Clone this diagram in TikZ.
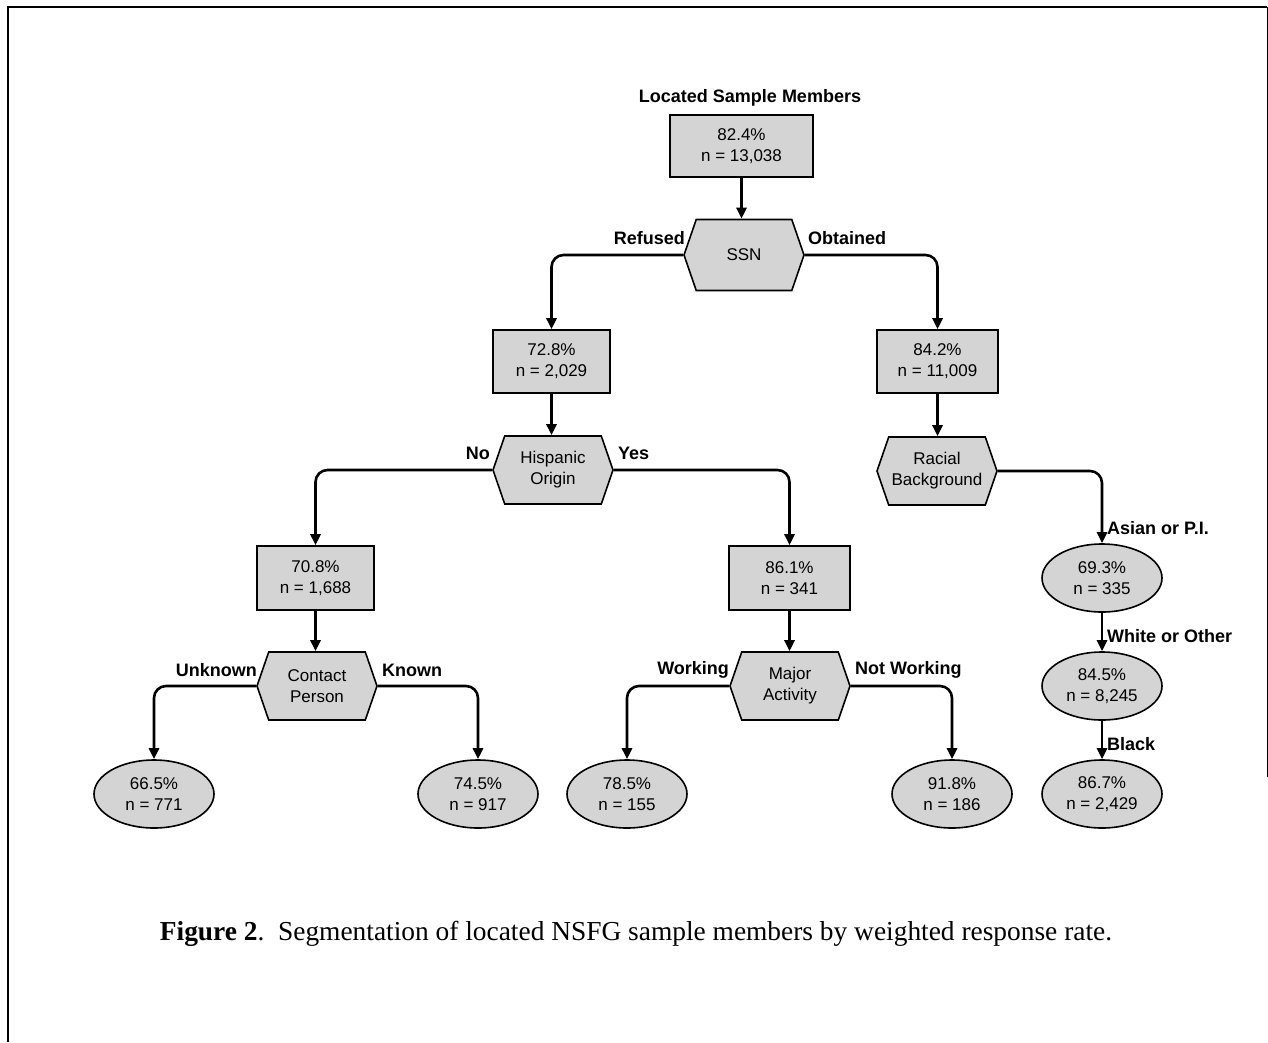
\documentclass[tikz,border=0pt]{standalone}
\usepackage{fontspec}
\setmainfont{Liberation Serif}
\newfontfamily\arial{Liberation Sans}
\usetikzlibrary{arrows.meta,shapes.geometric,shapes.symbols}
\begin{document}
\begin{tikzpicture}[x=1pt,y=-1pt,
  fillc/.style={fill=black!17},
  rbox/.style={draw, line width=1.6pt, fillc, align=center, inner sep=0pt,
     font=\arial\fontsize{17}{21}\selectfont},
  hexa/.style={draw, line width=1.6pt, fillc, align=center, shape=signal,
     signal to=east and west, signal pointer angle=142, inner sep=0pt,
     minimum width=120pt, minimum height=68pt,
     font=\arial\fontsize{17}{21}\selectfont},
  oval/.style={draw, line width=1.6pt, fillc, align=center, ellipse, inner sep=0pt,
     minimum width=120pt, minimum height=68pt,
     font=\arial\fontsize{17}{21}\selectfont},
  lab/.style={font=\arial\bfseries\fontsize{18}{20}\selectfont, inner sep=0pt},
  conn/.style={line width=2.6pt, rounded corners=12pt,
     -{Triangle[length=11pt,width=10pt]}}
]
\useasboundingbox (0,0) rectangle (1268,1042);
% frame
\draw[line width=2.2pt] (8,1042) -- (8,7) -- (1267,7);
\draw[line width=1pt] (1267,7) -- (1267,777);

% nodes
\node[rbox, minimum width=143pt, minimum height=62pt] (B1) at (741.5,146) {82.4\%\\n = 13,038};
\node[lab] (T) at (750,98) {Located Sample Members};
\node[hexa, minimum height=71pt] (SSN) at (744,255) {SSN};
\node[rbox, minimum width=117pt, minimum height=63pt] (B72) at (551.5,361.5) {72.8\%\\n = 2,029};
\node[rbox, minimum width=121pt, minimum height=63pt] (B84) at (937.5,361.5) {84.2\%\\n = 11,009};
\node[hexa] (HO) at (553,470) {Hispanic\\Origin};
\node[hexa] (RB) at (937,471) {Racial\\Background};
\node[rbox, minimum width=117pt, minimum height=64pt] (B70) at (315.5,578) {70.8\%\\n = 1,688};
\node[rbox, minimum width=121pt, minimum height=64pt] (B86) at (789.5,578) {86.1\%\\n = 341};
\node[hexa] (CP) at (317,686) {Contact\\Person};
\node[hexa] (MA) at (790,686) {Major\\Activity};
\node[oval] (E693) at (1102,578) {69.3\%\\n = 335};
\node[oval] (E845) at (1102,686) {84.5\%\\n = 8,245};
\node[oval] (E867) at (1102,794) {86.7\%\\n = 2,429};
\node[oval] (E665) at (154,794) {66.5\%\\n = 771};
\node[oval] (E745) at (478,794) {74.5\%\\n = 917};
\node[oval] (E785) at (627,794) {78.5\%\\n = 155};
\node[oval] (E918) at (952,794) {91.8\%\\n = 186};

% connectors
\draw[conn] (B1.south) -- (B1.south |- SSN.north);
\draw[conn] (SSN.west) -| (B72.north);
\draw[conn] (SSN.east) -| (B84.north);
\draw[conn] (B72.south) -- (B72.south |- HO.north);
\draw[conn] (B84.south) -- (B84.south |- RB.north);
\draw[conn] (HO.west) -| (B70.north);
\draw[conn] (HO.east) -| (B86.north);
\draw[conn] (B70.south) -- (B70.south |- CP.north);
\draw[conn] (B86.south) -- (B86.south |- MA.north);
\draw[conn] (CP.west) -| (E665.north);
\draw[conn] (CP.east) -| (E745.north);
\draw[conn] (MA.west) -| (E785.north);
\draw[conn] (MA.east) -| (E918.north);
\draw[conn] (RB.east) -| (E693.north);
\draw[conn] (E693.south) -- (E845.north);
\draw[conn] (E845.south) -- (E867.north);

% edge labels
\node[lab, anchor=east] at ([xshift=2pt,yshift=17pt]SSN.west) {Refused};
\node[lab, anchor=west] at ([xshift=3pt,yshift=17pt]SSN.east) {Obtained};
\node[lab, anchor=east] at ([xshift=-2pt,yshift=17pt]HO.west) {No};
\node[lab, anchor=west] at ([xshift=4pt,yshift=17pt]HO.east) {Yes};
\node[lab, anchor=east] at ([xshift=1pt,yshift=16pt]CP.west) {Unknown};
\node[lab, anchor=west] at ([xshift=4pt,yshift=16pt]CP.east) {Known};
\node[lab, anchor=east] at ([xshift=0pt,yshift=16pt]MA.west) {Working};
\node[lab, anchor=west] at ([xshift=4pt,yshift=16pt]MA.east) {Not Working};
\node[lab, anchor=west] at ([xshift=5pt,yshift=15pt]E693.north) {Asian or P.I.};
\node[lab, anchor=west] at ([xshift=5pt,yshift=15pt]E845.north) {White or Other};
\node[lab, anchor=west] at ([xshift=5pt,yshift=15pt]E867.north) {Black};

% caption
\node[font=\fontsize{27.4}{32}\selectfont, inner sep=0pt] (CAP) at (636,934)
  {\textbf{Figure 2}.\ \ Segmentation of located NSFG sample members by weighted response rate.};
\end{tikzpicture}
\end{document}
